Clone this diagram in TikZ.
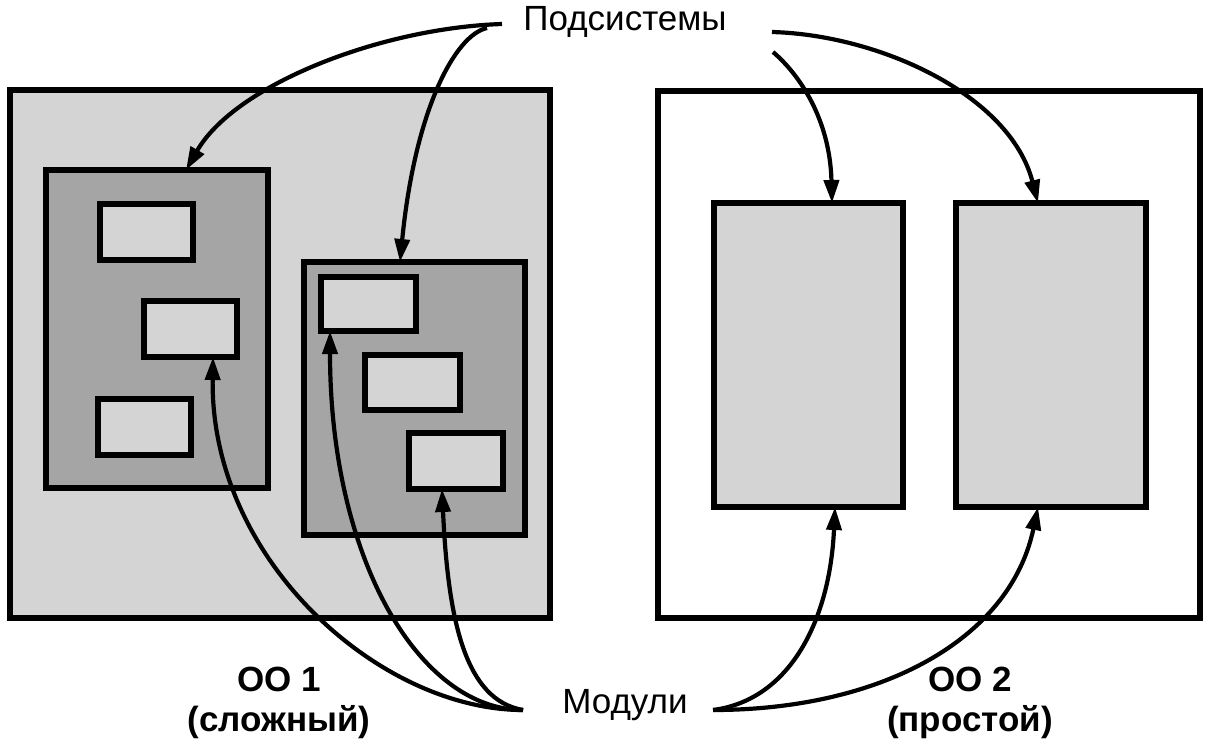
\documentclass[tikz,border=0pt]{standalone}
\usepackage{fontspec}
\setmainfont{Liberation Sans}
\usetikzlibrary{arrows.meta}
\definecolor{lgray}{HTML}{D4D4D4}
\definecolor{dgray}{HTML}{A5A5A5}
\tikzset{
  box/.style={draw=black, line width=6pt, inner sep=0pt, outer sep=0pt, anchor=north west},
  outerbox/.style={box, fill=lgray},
  subbox/.style={box, fill=dgray},
  modbox/.style={box, fill=lgray},
  conn/.style={line width=4.2pt, -{Triangle[length=23pt,width=15pt]}},
  lbl/.style={font=\fontsize{35}{40}\selectfont, inner sep=0pt},
  blbl/.style={font=\fontsize{35}{40}\selectfont\bfseries, inner sep=0pt, align=center}
}
\begin{document}
\begin{tikzpicture}[x=1pt,y=-1pt]
\useasboundingbox (0,0) rectangle (1211,746);
% outer systems
\node[outerbox, minimum width=540pt, minimum height=528pt] (oo1) at (10,90) {};
\node[box, fill=white, minimum width=542pt, minimum height=527pt] (oo2) at (658,91) {};
% subsystems of OO1
\node[subbox, minimum width=222pt, minimum height=318pt] (sub1) at (46,170) {};
\node[subbox, minimum width=221pt, minimum height=273pt] (sub2) at (304,262) {};
% modules
\node[modbox, minimum width=93pt, minimum height=56pt] (ma) at (100,204) {};
\node[modbox, minimum width=93pt, minimum height=56pt] (mb) at (144,301) {};
\node[modbox, minimum width=93pt, minimum height=56pt] (mc) at (98,399) {};
\node[modbox, minimum width=95pt, minimum height=54pt] (md) at (321,277) {};
\node[modbox, minimum width=95pt, minimum height=55pt] (me) at (365,355) {};
\node[modbox, minimum width=94pt, minimum height=56pt] (mf) at (409,433) {};
% subsystems of OO2
\node[modbox, minimum width=189pt, minimum height=304pt] (sa) at (714,203) {};
\node[modbox, minimum width=190pt, minimum height=304pt] (sb) at (956,203) {};
% labels
\node[lbl] (podsys) at (625,22) {Подсистемы};
\node[lbl] (moduli) at (625,705) {Модули};
\node[blbl] (l1) at (279,703) {ОО 1\\(сложный)};
\node[blbl] (l2) at (970,703) {ОО 2\\(простой)};
% connector start points
\coordinate (p1) at (502,24);
\coordinate (p2) at (487,28);
\coordinate (p3) at (772,32);
\coordinate (p4) at (773,52);
\coordinate (q1) at (523,710);
\coordinate (q2) at (713,710);
% Подсистемы arrows
\draw[conn] (p1) .. controls (380,28) and (235,85) .. ([xshift=140pt]sub1.north west);
\draw[conn] (p2) .. controls (455,35) and (415,110) .. ([xshift=96pt]sub2.north west);
\draw[conn] (p3) .. controls (880,35) and (1010,95) .. ([xshift=82pt]sb.north west);
\draw[conn] (p4) .. controls (800,75) and (830,120) .. ([xshift=118pt]sa.north west);
% Модули arrows
\draw[conn] (q1) .. controls (380,710) and (210,560) .. ([xshift=69pt]mb.south west);
\draw[conn] (q1) .. controls (420,710) and (330,560) .. ([xshift=9pt]md.south west);
\draw[conn] (q1) .. controls (465,700) and (448,620) .. ([xshift=33pt]mf.south west);
\draw[conn] (q2) .. controls (790,700) and (830,620) .. ([xshift=121pt]sa.south west);
\draw[conn] (q2) .. controls (880,710) and (1010,640) .. ([xshift=82pt]sb.south west);
\end{tikzpicture}
\end{document}
